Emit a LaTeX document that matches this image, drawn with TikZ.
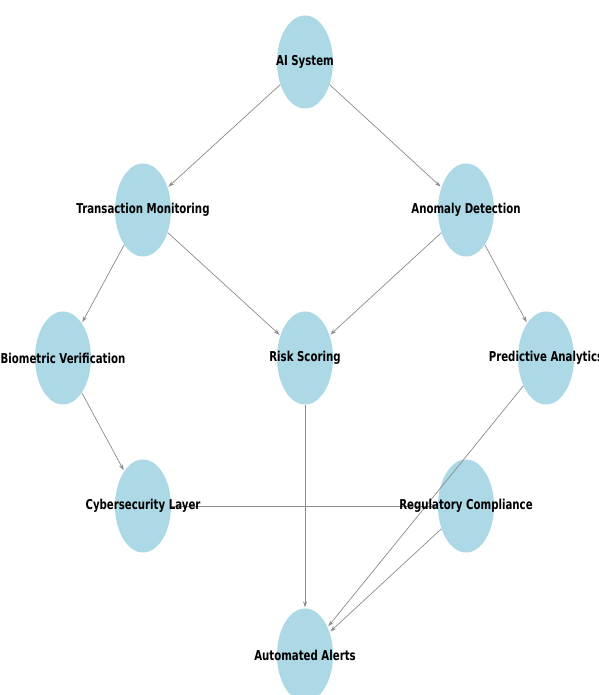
\documentclass[tikz,border=0pt]{standalone}
\usepackage{fontspec}
\setmainfont{DejaVu Sans}[FakeStretch=0.75]
\usetikzlibrary{shapes.geometric,arrows.meta}
\definecolor{nodeblue}{HTML}{ADD8E6}
\definecolor{edgegray}{HTML}{8C8C8C}
\tikzset{
  blob/.style={ellipse, fill=nodeblue, draw=none, minimum width=56pt, minimum height=93pt, inner sep=0pt},
  lbl/.style={font=\fontsize{13.6}{16}\selectfont\bfseries, text=black, inner sep=0pt},
  conn/.style={draw=edgegray, line width=0.7pt, -{Stealth[length=6pt,width=4pt]}, shorten >=1pt}
}
\begin{document}
\begin{tikzpicture}[x=1pt,y=1pt]
\useasboundingbox (0,0) rectangle (598,695);
\clip (0,0) rectangle (598,695);
\fill[white] (0,0) rectangle (598,695);
% nodes
\node[blob] (ai) at (305,633) {};
\node[blob] (tm) at (143,485) {};
\node[blob] (ad) at (466,485) {};
\node[blob] (bv) at (63,337) {};
\node[blob] (rs) at (305,337) {};
\node[blob] (pa) at (546,337) {};
\node[blob] (cl) at (143,189) {};
\node[blob] (rc) at (466,189) {};
\node[blob] (aa) at (305,40) {};
% connectors
\draw[conn] (ai) -- (tm);
\draw[conn] (ai) -- (ad);
\draw[conn] (tm) -- (bv);
\draw[conn] (tm) -- (rs);
\draw[conn] (ad) -- (rs);
\draw[conn] (ad) -- (pa);
\draw[conn] (bv) -- (cl);
\draw[conn] (rs) -- (aa);
\draw[conn] (pa) -- (aa);
\draw[conn] (rc) -- (aa);
\draw[conn] (cl) -- (rc);
% labels
\node[lbl] (ait) at (ai) {AI System};
\node[lbl] (tmt) at (tm) {Transaction Monitoring};
\node[lbl] (adt) at (ad) {Anomaly Detection};
\node[lbl] (bvt) at (bv) {Biometric Verification};
\node[lbl] (rst) at (rs) {Risk Scoring};
\node[lbl] (pat) at (pa) {Predictive Analytics};
\node[lbl] (clt) at (cl) {Cybersecurity Layer};
\node[lbl] (rct) at (rc) {Regulatory Compliance};
\node[lbl] (aat) at (aa) {Automated Alerts};
\end{tikzpicture}
\end{document}
